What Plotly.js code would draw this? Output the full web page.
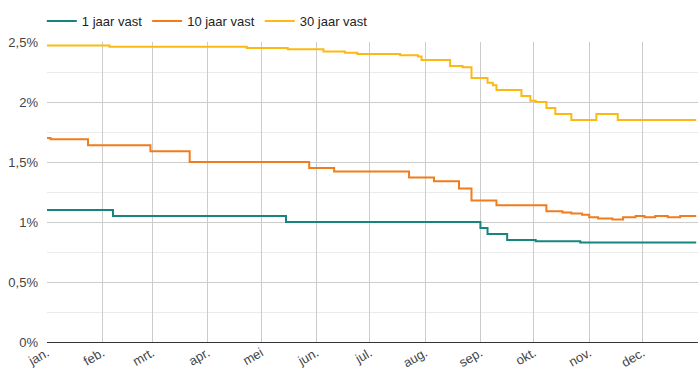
<!DOCTYPE html>
<html>
<head>
<meta charset="utf-8">
<script src="https://cdn.plot.ly/plotly-3.0.1.min.js"></script>
<style>html,body{margin:0;padding:0;background:#fff;}#chart{width:700px;height:387px;}</style>
</head>
<body>
<div id="chart"></div>
<script>
// 1 jaar vast
var dates1 = ['2019-01-01','2019-02-07','2019-05-15','2019-09-01','2019-09-05','2019-09-16','2019-10-02','2019-10-27','2019-12-31'];
var vals1  = [1.10, 1.05, 1.00, 0.95, 0.90, 0.85, 0.84, 0.83, 0.83];

// 10 jaar vast
var dates10 = ['2019-01-01','2019-01-03','2019-01-24','2019-02-28','2019-03-22','2019-05-28','2019-06-11','2019-07-23','2019-08-06','2019-08-20','2019-08-27','2019-09-10','2019-10-08','2019-10-17','2019-10-22','2019-10-28','2019-11-01','2019-11-06','2019-11-14','2019-11-20','2019-11-27','2019-12-02','2019-12-08','2019-12-15','2019-12-22','2019-12-31'];
var vals10  = [1.70, 1.69, 1.64, 1.59, 1.50, 1.45, 1.42, 1.37, 1.34, 1.28, 1.18, 1.14, 1.09, 1.08, 1.07, 1.06, 1.04, 1.03, 1.02, 1.04, 1.05, 1.04, 1.05, 1.04, 1.05, 1.05];

// 30 jaar vast
var dates30 = ['2019-01-01','2019-02-05','2019-04-23','2019-05-16','2019-06-05','2019-06-17','2019-06-24','2019-07-18','2019-07-28','2019-07-30','2019-08-15','2019-08-22','2019-08-27','2019-09-05','2019-09-08','2019-09-10','2019-09-24','2019-09-29','2019-10-02','2019-10-08','2019-10-13','2019-10-22','2019-11-05','2019-11-17','2019-12-31'];
var vals30  = [2.47, 2.46, 2.45, 2.44, 2.42, 2.41, 2.40, 2.39, 2.38, 2.35, 2.30, 2.29, 2.20, 2.16, 2.14, 2.10, 2.05, 2.01, 2.00, 1.95, 1.90, 1.85, 1.90, 1.85, 1.85];

var seriesNames = ['1 jaar vast', '10 jaar vast', '30 jaar vast'];

var monthTicks = ['2019-01-01','2019-02-01','2019-03-01','2019-04-01','2019-05-01','2019-06-01','2019-07-01','2019-08-01','2019-09-01','2019-10-01','2019-11-01','2019-12-01'];
var monthLabels = ['jan.','feb.','mrt.','apr.','mei','jun.','jul.','aug.','sep.','okt.','nov.','dec.'];

var yTicks = [0, 0.5, 1, 1.5, 2, 2.5];
var yLabels = ['0%', '0,5%', '1%', '1,5%', '2%', '2,5%'];
var yMinorTicks = [0.25, 0.75, 1.25, 1.75, 2.25];

var colors = ['#17857f', '#f27c1c', '#fdb913'];

var traces = [
  {x: dates1, y: vals1, name: seriesNames[0]},
  {x: dates10, y: vals10, name: seriesNames[1]},
  {x: dates30, y: vals30, name: seriesNames[2]}
].map(function(t, i){
  t.type = 'scatter'; t.mode = 'lines';
  t.line = {color: colors[i], width: 2, shape: 'hv'};
  t.hoverinfo = 'skip';
  return t;
});

var layout = {
  width: 700, height: 387,
  margin: {l: 47, r: 2, t: 42, b: 45},
  paper_bgcolor: '#fff', plot_bgcolor: '#fff',
  font: {family: 'Liberation Sans, Arial, sans-serif', size: 13, color: '#444'},
  showlegend: true,
  legend: {orientation: 'h', x: -0.008, xanchor: 'left', y: 1.07, yanchor: 'middle',
           font: {size: 13, color: '#222'}, bgcolor: 'rgba(0,0,0,0)'},
  xaxis: {
    type: 'date', range: ['2019-01-01', '2020-01-01'],
    tickmode: 'array', tickvals: monthTicks, ticktext: monthLabels,
    tickangle: -30, showgrid: true, gridcolor: '#cccccc', gridwidth: 1,
    zeroline: false, showline: false, ticks: '', fixedrange: true
  },
  yaxis: {
    range: [0, 2.5], tickmode: 'array', tickvals: yTicks, ticktext: yLabels,
    showgrid: true, gridcolor: '#cccccc', gridwidth: 1,
    zeroline: true, zerolinecolor: '#333333', zerolinewidth: 1,
    showline: false, ticks: '', ticklabelstandoff: 8,
    minor: {tickmode: 'array', tickvals: yMinorTicks, showgrid: true, gridcolor: '#ebebeb', gridwidth: 1, ticks: ''},
    fixedrange: true
  }
};

Plotly.newPlot('chart', traces, layout, {displayModeBar: false, staticPlot: true});
</script>
</body>
</html>
